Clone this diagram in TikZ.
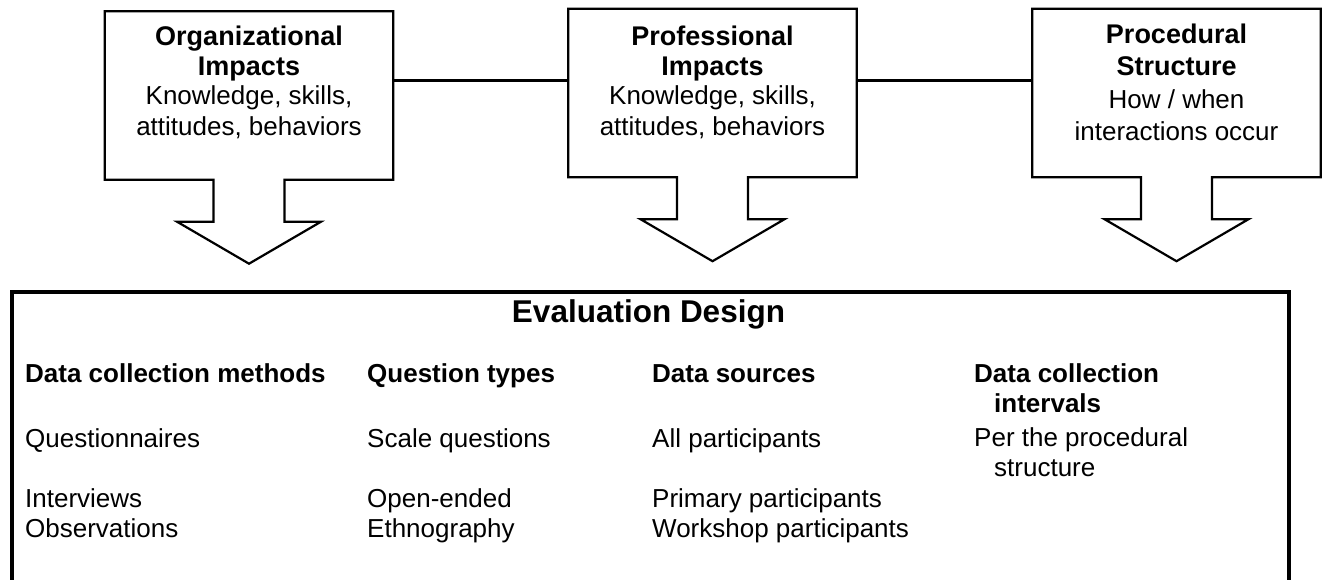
\documentclass[tikz,border=0pt]{standalone}
\usepackage{fontspec}
\setmainfont{Liberation Sans}
\usetikzlibrary{calc}
\tikzset{
  boxarea/.style={rectangle, inner sep=0pt, minimum width=288pt, minimum height=168pt},
  callline/.style={line width=2.2pt, line join=miter},
  connline/.style={line width=3pt},
  evalbox/.style={draw, line width=4pt, rectangle, inner sep=0pt, anchor=north west, minimum width=1277pt, minimum height=420pt},
  ttl/.style={anchor=base, inner sep=0pt, font=\fontsize{27}{30}\selectfont\bfseries},
  txt/.style={anchor=base, inner sep=0pt, font=\fontsize{26}{30}\selectfont},
  evtitle/.style={anchor=base, inner sep=0pt, font=\fontsize{31.5}{36}\selectfont\bfseries},
  colhead/.style={anchor=base west, inner sep=0pt, font=\fontsize{26}{30}\selectfont\bfseries},
  colitem/.style={anchor=base west, inner sep=0pt, font=\fontsize{26}{30}\selectfont}
}
\newcommand\calloutpath[1]{%
  \draw[callline] (#1.north west) -- (#1.north east) -- (#1.south east)
    -- ($(#1.south)+(35.5,0)$) -- ($(#1.south)+(35.5,42)$) -- ($(#1.south)+(72,42)$)
    -- ($(#1.south)+(0,84)$) -- ($(#1.south)+(-72,42)$) -- ($(#1.south)+(-35.5,42)$)
    -- ($(#1.south)+(-35.5,0)$) -- (#1.south west) -- cycle;}
\begin{document}
\begin{tikzpicture}[x=1pt, y=-1pt]
\useasboundingbox (0,0) rectangle (1322,579);
\clip (0,0) rectangle (1322,579);
% top callout boxes
\node[boxarea] (b1) at (249,95.5) {};
\node[boxarea] (b2) at (712.5,93) {};
\node[boxarea] (b3) at (1176.5,93) {};
\calloutpath{b1}
\calloutpath{b2}
\calloutpath{b3}
% connectors
\coordinate (ly) at (0,80);
\draw[connline] (b1.east |- ly) -- (b2.west |- ly);
\draw[connline] (b2.east |- ly) -- (b3.west |- ly);
% box texts
\node[ttl] (t1a) at (249,45) {Organizational};
\node[ttl] (t1b) at (249,75) {Impacts};
\node[txt] (t1c) at (249,104) {Knowledge, skills,};
\node[txt] (t1d) at (249,135) {attitudes, behaviors};
\node[ttl] (t2a) at (712.5,45) {Professional};
\node[ttl] (t2b) at (712.5,75) {Impacts};
\node[txt] (t2c) at (712.5,104) {Knowledge, skills,};
\node[txt] (t2d) at (712.5,135) {attitudes, behaviors};
\node[ttl] (t3a) at (1176.5,43) {Procedural};
\node[ttl] (t3b) at (1176.5,75) {Structure};
\node[txt] (t3c) at (1176.5,108) {How / when};
\node[txt] (t3d) at (1176.5,140) {interactions occur};
% evaluation design box
\node[evalbox] (ev) at (10,290) {};
\node[evtitle] (evt) at (648.5,322) {Evaluation Design};
% column 1
\node[colhead] (h1) at (25,382) {Data collection methods};
\node[colitem] (c1a) at (25,447) {Questionnaires};
\node[colitem] (c1b) at (25,507) {Interviews};
\node[colitem] (c1c) at (25,537) {Observations};
% column 2
\node[colhead] (h2) at (367,382) {Question types};
\node[colitem] (c2a) at (367,447) {Scale questions};
\node[colitem] (c2b) at (367,507) {Open-ended};
\node[colitem] (c2c) at (367,537) {Ethnography};
% column 3
\node[colhead] (h3) at (652,382) {Data sources};
\node[colitem] (c3a) at (652,447) {All participants};
\node[colitem] (c3b) at (652,507) {Primary participants};
\node[colitem] (c3c) at (652,537) {Workshop participants};
% column 4
\node[colhead] (h4a) at (974,382) {Data collection};
\node[colhead] (h4b) at (994,412) {intervals};
\node[colitem] (c4a) at (974,446) {Per the procedural};
\node[colitem] (c4b) at (994,476) {structure};
\end{tikzpicture}
\end{document}
